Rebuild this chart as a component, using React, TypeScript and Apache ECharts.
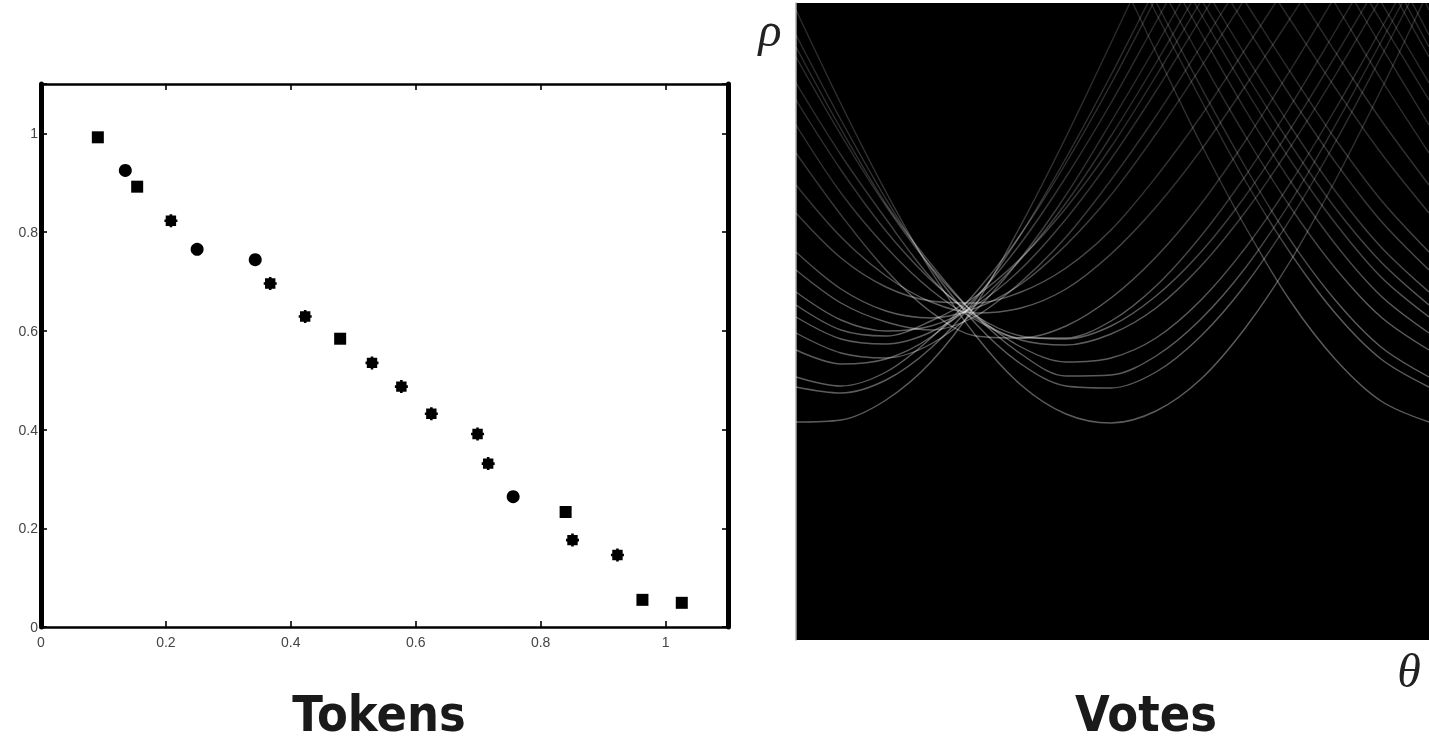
import React, { useEffect, useRef } from "react";
import * as echarts from "echarts";

const tickLabels = ["0", "0.2", "0.4", "0.6", "0.8", "1"];

const squareTokens = [[0.091, 0.992], [0.154, 0.892], [0.479, 0.584], [0.84, 0.233], [0.963, 0.055], [1.026, 0.049]];
const roundTokens = [[0.135, 0.925], [0.25, 0.765], [0.343, 0.744], [0.756, 0.264]];
const starTokens = [[0.208, 0.823], [0.367, 0.696], [0.423, 0.629], [0.53, 0.535], [0.577, 0.487], [0.625, 0.432], [0.699, 0.391], [0.716, 0.331], [0.851, 0.176], [0.923, 0.146]];

const thetaSteps = [0, 45, 90, 135, 180, 225, 270, 315, 360, 405, 450, 495, 540, 585, 633];

const voteCurves = [
  [10, 104, 192, 271, 336, 385, 414, 423, 411, 379, 327, 260, 179, 90, -10],
  [35, 120, 199, 268, 324, 364, 386, 388, 372, 336, 284, 218, 141, 57, -35],
  [47, 129, 204, 264, 316, 354, 376, 375, 356, 319, 267, 201, 124, 42, -47],
  [57, 135, 206, 267, 315, 347, 362, 358, 338, 300, 247, 182, 108, 29, -57],
  [83, 155, 219, 278, 318, 340, 345, 334, 308, 266, 211, 146, 74, -2, -83],
  [100, 170, 231, 280, 316, 336, 339, 326, 296, 252, 195, 128, 55, -21, -100],
  [125, 193, 247, 290, 320, 338, 338, 321, 286, 236, 175, 105, 30, -46, -125],
  [153, 215, 270, 312, 336, 338, 326, 298, 257, 204, 140, 69, -5, -79, -153],
  [185, 237, 276, 302, 313, 308, 289, 254, 207, 150, 85, 17, -53, -120, -185],
  [213, 258, 287, 301, 303, 292, 268, 230, 177, 116, 48, -21, -89, -153, -213],
  [252, 289, 311, 318, 308, 284, 245, 195, 134, 67, -3, -73, -140, -200, -252],
  [270, 303, 322, 330, 316, 282, 237, 180, 116, 46, -26, -97, -163, -221, -270],
  [292, 320, 331, 326, 305, 269, 219, 159, 91, 18, -56, -127, -192, -247, -292],
  [305, 330, 336, 321, 296, 258, 208, 147, 76, 1, -74, -145, -209, -262, -305],
  [317, 339, 344, 332, 303, 259, 203, 136, 63, -14, -90, -161, -224, -277, -317],
  [333, 353, 358, 344, 310, 258, 195, 122, 46, -33, -111, -182, -245, -296, -333],
  [350, 364, 359, 337, 297, 243, 177, 103, 22, -59, -137, -208, -269, -317, -350],
  [377, 386, 372, 338, 292, 234, 163, 84, -2, -87, -168, -241, -301, -347, -377],
  [387, 393, 380, 348, 299, 234, 158, 75, -13, -100, -182, -254, -314, -359, -387],
  [422, 420, 400, 362, 304, 225, 137, 43, -52, -144, -228, -302, -360, -401, -422],
];

const STAR = "path://M4 0H6V1H9V4H10V6H9V9H6V10H4V9H1V6H0V4H1V1H4Z";

export default function App() {
  const votesRef = useRef<HTMLDivElement>(null);
  const tokensRef = useRef<HTMLDivElement>(null);
  useEffect(() => {
    const votes = echarts.init(votesRef.current!, undefined, { renderer: "svg" });
    const tokens = echarts.init(tokensRef.current!, undefined, { renderer: "svg" });
    const lineColor = new echarts.graphic.LinearGradient(0, 0, 0, 640, [
      { offset: 0, color: "rgba(255,255,255,0.16)" },
      { offset: 0.3, color: "rgba(255,255,255,0.2)" },
      { offset: 0.48, color: "rgba(255,255,255,0.36)" },
      { offset: 1, color: "rgba(255,255,255,0.36)" },
    ], true);
    const curveSeries = (sign: number) =>
      voteCurves.map((row) => ({
        type: "line",
        symbol: "none",
        smooth: 0.33,
        silent: true,
        clip: true,
        lineStyle: { width: 1.4, color: lineColor },
        data: row.map((v, i) => [thetaSteps[i], sign * v]),
      }));
    const tokenSeries = (data: number[][], symbol: string, size: number) => ({
      type: "scatter",
      xAxisIndex: 0,
      yAxisIndex: 0,
      symbol,
      symbolSize: size,
      itemStyle: { color: "#000", opacity: 1 },
      data,
    });
    const fmt = (v: number) => {
      const s = String(Math.round(v * 10) / 10);
      return tickLabels.includes(s) ? s : "";
    };
    const xLabel = { color: "#444", fontSize: 14, fontFamily: "Liberation Sans", margin: 8, formatter: fmt };
    const yLabel = { ...xLabel, margin: 3 };
    const frame = (width: number) => ({ show: true, onZero: false, lineStyle: { color: "#000", width } });
    const ticks = { show: true, inside: true, length: 6, lineStyle: { color: "#000", width: 1.6 } };
    const frameAxis = {
      type: "value", min: 0, max: 1.1, interval: 0.2, splitLine: { show: false }, axisTick: ticks,
    };
    const hidden = {
      type: "value", splitLine: { show: false }, axisTick: { show: false }, axisLabel: { show: false },
    };
    const title = (text: string, x: number) => ({
      type: "text", x, y: 738, scaleY: 1.1,
      style: { text, font: "bold 45px 'DejaVu Sans'", fill: "#1a1a1a", textAlign: "center", textVerticalAlign: "bottom" },
    });
    const symbolText = (text: string, x: number, y: number) => ({
      type: "text", x, y,
      style: { text, font: "italic 48px 'Liberation Serif'", fill: "#222", textAlign: "center", textVerticalAlign: "middle" },
    });
    tokens.setOption({
      animation: false,
      grid: { left: 41, top: 84, width: 687, height: 543 },
      xAxis: [
        { ...frameAxis, position: "bottom", axisLine: frame(2.5), axisLabel: xLabel },
        { ...frameAxis, position: "top", axisLine: frame(2.5), axisLabel: { show: false } },
      ],
      yAxis: [
        { ...frameAxis, position: "left", axisLine: frame(5), axisLabel: yLabel },
        { ...frameAxis, position: "right", axisLine: frame(5), axisLabel: { show: false } },
      ],
      series: [
        tokenSeries(squareTokens, "rect", 12),
        tokenSeries(roundTokens, "circle", 13),
        tokenSeries(starTokens, STAR, 13),
      ],
    });
    votes.setOption({
      animation: false,
      backgroundColor: "#fff",
      grid: { left: 796, top: 3, width: 633, height: 637, show: true, backgroundColor: "#000", borderWidth: 0 },
      xAxis: { ...hidden, min: 0, max: 633, axisLine: { show: false } },
      yAxis: { ...hidden, min: 3, max: 640, inverse: true, axisLine: { show: true, onZero: false, lineStyle: { color: "#aaa", width: 1.5 } } },
      series: [...curveSeries(1), ...curveSeries(-1)],
      graphic: [
        title("Tokens", 379),
        title("Votes", 1146),
        symbolText("ρ", 770, 29),
        symbolText("θ", 1409, 670),
      ],
    });
    return () => {
      votes.dispose();
      tokens.dispose();
    };
  }, []);
  return (
    <>
      <div ref={votesRef} style={{ position: "fixed", left: 0, top: 0, width: 1429, height: 739, filter: "blur(0.4px)" }} />
      <div ref={tokensRef} style={{ position: "fixed", left: 0, top: 0, width: 760, height: 670, filter: "blur(0.7px)" }} />
    </>
  );
}
